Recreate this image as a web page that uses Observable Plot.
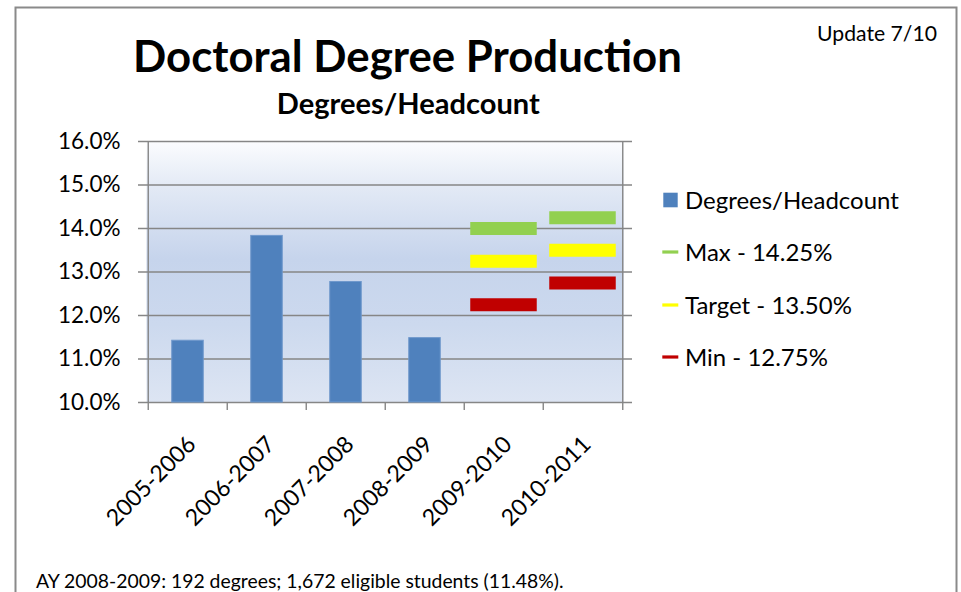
<!DOCTYPE html>
<html><head><meta charset="utf-8">
<script src="https://cdn.jsdelivr.net/npm/d3@7"></script>
<script src="https://cdn.jsdelivr.net/npm/@observablehq/plot@0.6"></script>
<style>
html,body{margin:0;padding:0;background:#fff;}
#page{position:relative;width:961px;height:592px;overflow:hidden;font-family:Lato,"Open Sans",sans-serif;}
#chart{position:absolute;left:0;top:130px;}
#overlay{position:absolute;left:0;top:0;}
</style></head><body>
<div id="page"><div id="chart"></div><svg id="overlay" width="961" height="592"></svg></div>
<script>
// ---- data ----
const years = ["2005-2006","2006-2007","2007-2008","2008-2009","2009-2010","2010-2011"];
const rateValues = [11.42, 13.83, 12.77, 11.48, null, null];
const goalYears = ["2009-2010","2010-2011"];
const maxGoal = [14.0, 14.25];
const targetGoal = [13.25, 13.5];
const minGoal = [12.25, 12.75];
const yTicks = [10, 11, 12, 13, 14, 15, 16];
const yTickLabels = ["10.0%","11.0%","12.0%","13.0%","14.0%","15.0%","16.0%"];
const legendLabels = ["Degrees/Headcount","Max - 14.25%","Target - 13.50%","Min - 12.75%"];
const titleText = "Doctoral Degree Production";
const subtitleText = "Degrees/Headcount";
const updateText = "Update 7/10";
const captionText = "AY 2008-2009: 192 degrees; 1,672 eligible students (11.48%).";

// ---- styles ----
const barColor = "#4F81BD", maxColor = "#92D050", targetColor = "#FFFF00", minColor = "#C00000";
const gridColor = "#868686";
const yMin = yTicks[0], yMax = yTicks[yTicks.length - 1];

const bars = years.map((yr, i) => ({year: yr, v: rateValues[i]})).filter(d => d.v != null);
const goals = goalYears.map((yr, i) => ({year: yr, max: maxGoal[i], target: targetGoal[i], min: minGoal[i]}));

const W = 640, H = 400, ml = 146, mr = 17, mt = 11, mb = 128;
const step = (W - ml - mr) / years.length;
const barInset = (step - 32) / 2;
const goalInset = (step - 67) / 2;
const labelMap = new Map(yTicks.map((t, i) => [t, yTickLabels[i]]));

const chart = Plot.plot({
  width: W, height: H, marginLeft: ml, marginRight: mr, marginTop: mt, marginBottom: mb,
  style: {fontFamily: "Lato, sans-serif", fontSize: "22px", color: "#000", background: "transparent", overflow: "visible"},
  x: {type: "band", domain: years, padding: 0, label: null},
  y: {domain: [yMin, yMax], label: null},
  marks: [
    Plot.frame({fill: "url(#bgGrad)", stroke: "none"}),
    Plot.ruleY(yTicks, {y: d => d, stroke: gridColor, strokeWidth: 1.4, insetLeft: -8, insetRight: -9}),
    Plot.ruleX(years, {x: d => d, dx: -step / 2, y1: yMin, y2: yMax, stroke: gridColor, strokeWidth: 1.4, filter: (d, i) => i === 0}),
    Plot.ruleX([years[years.length - 1]], {x: d => d, dx: step / 2, y1: yMin, y2: yMax, stroke: gridColor, strokeWidth: 1.4}),
    Plot.ruleX(years, {x: d => d, dx: -step / 2, y1: yMin, y2: yMin, insetBottom: -8, stroke: gridColor, strokeWidth: 1.4}),
    Plot.ruleX([years[years.length - 1]], {x: d => d, dx: step / 2, y1: yMin, y2: yMin, insetBottom: -8, stroke: gridColor, strokeWidth: 1.4}),
    Plot.barY(bars, {x: "year", y1: yMin, y2: "v", fill: barColor, stroke: "#6f98cc", strokeWidth: 1, insetLeft: barInset, insetRight: barInset}),
    Plot.tickY(goals, {x: "year", y: "max", stroke: maxColor, strokeWidth: 13, insetLeft: goalInset, insetRight: goalInset}),
    Plot.tickY(goals, {x: "year", y: "target", stroke: targetColor, strokeWidth: 13, insetLeft: goalInset, insetRight: goalInset}),
    Plot.tickY(goals, {x: "year", y: "min", stroke: minColor, strokeWidth: 13, insetLeft: goalInset, insetRight: goalInset}),
    Plot.axisY({ticks: yTicks, tickSize: 0, tickPadding: 26, tickFormat: d => labelMap.get(d), fontSize: 22.5, label: null}),
    Plot.axisX({tickSize: 0, tickRotate: -45, tickPadding: 38, dx: 4, fontSize: 23, label: null})
  ]
});
document.getElementById("chart").appendChild(chart);

// gradient for plot area
const svgSel = d3.select(chart);
const grad = svgSel.insert("defs", ":first-child").append("linearGradient")
  .attr("id", "bgGrad").attr("x1", 0).attr("y1", 0).attr("x2", 0).attr("y2", 1);
[["0%", "#FBFCFE"], ["18%", "#E2E9F5"], ["45%", "#C6D4EC"], ["70%", "#CCD9EE"], ["100%", "#DDE5F3"]]
  .forEach(([o, c]) => grad.append("stop").attr("offset", o).attr("stop-color", c));

// ---- overlay: border, titles, legend, caption ----
const ov = d3.select("#overlay");
ov.append("rect").attr("x", 15.5).attr("y", 7.5).attr("width", 941).attr("height", 700)
  .attr("fill", "none").attr("stroke", "#8a8a8a").attr("stroke-width", 2);

function fit(sel, target) {
  const len = sel.node().getComputedTextLength();
  const fs = parseFloat(sel.attr("font-size"));
  sel.attr("font-size", fs * target / len);
  return sel;
}
const ff = "Lato, sans-serif";
fit(ov.append("text").attr("x", 407.5).attr("y", 72).attr("text-anchor", "middle")
  .attr("font-family", ff).attr("font-weight", "bold").attr("font-size", 40).text(titleText), 549);
fit(ov.append("text").attr("x", 408.3).attr("y", 114).attr("text-anchor", "middle")
  .attr("font-family", ff).attr("font-weight", "bold").attr("font-size", 25).text(subtitleText), 263);
fit(ov.append("text").attr("x", 937).attr("y", 41).attr("text-anchor", "end")
  .attr("font-family", ff).attr("font-size", 20).text(updateText), 120);
fit(ov.append("text").attr("x", 36).attr("y", 588).attr("font-family", ff).attr("font-size", 20).text(captionText), 528);

const rowY = [200, 252, 305, 357];
const legColors = [barColor, maxColor, targetColor, minColor];
ov.append("rect").attr("x", 663.3).attr("y", rowY[0] - 7.3).attr("width", 14.4).attr("height", 14.6).attr("fill", barColor);
for (let i = 1; i < 4; i++) {
  ov.append("line").attr("x1", 662.3).attr("x2", 678.3).attr("y1", rowY[i]).attr("y2", rowY[i])
    .attr("stroke", legColors[i]).attr("stroke-width", 3.2);
}
const legTexts = legendLabels.map((t, i) => ov.append("text").attr("x", 685).attr("y", rowY[i] + 8.5)
  .attr("font-family", ff).attr("font-size", 22).text(t));
fit(legTexts[0], 214);
const lfs = legTexts[0].attr("font-size");
legTexts.forEach(s => s.attr("font-size", lfs));
</script>
</body></html>
